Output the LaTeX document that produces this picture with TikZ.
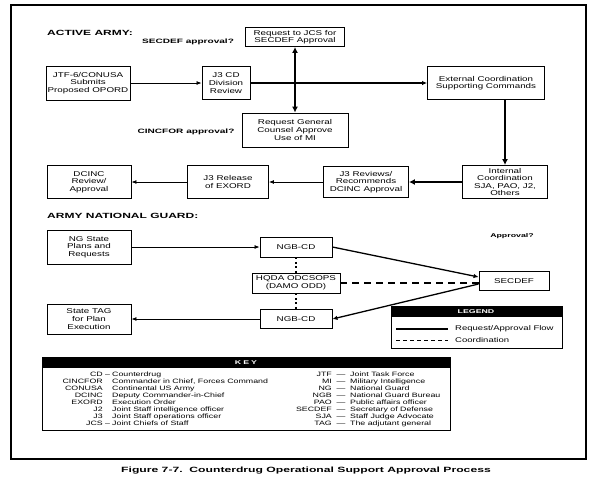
\documentclass[tikz,border=0pt]{standalone}
\usepackage{fontspec}
\setmainfont{Liberation Sans}
\newfontfamily\widefont[FakeStretch=1.4]{Liberation Sans}
\newfontfamily\headfont[FakeStretch=1.6]{Liberation Sans}
\usetikzlibrary{arrows.meta,positioning}

\begin{document}
\begin{tikzpicture}[x=1pt,y=-1pt,
  pbox/.style={draw,line width=0.9pt,align=center,inner sep=1pt,font=\widefont\fontsize{7}{7.6}\selectfont},
  flow/.style={line width=0.8pt,-{Latex[length=5pt,width=4pt]}},
  mflow/.style={line width=1.3pt,-{Latex[length=5pt,width=4.5pt]}},
  tflow/.style={line width=2.4pt,-{Latex[length=6pt,width=6pt]}},
  dflow/.style={line width=2.4pt,{Latex[length=6pt,width=6pt]}-{Latex[length=6pt,width=6pt]}},
  coord/.style={line width=1.8pt,dash pattern=on 7pt off 5pt},
  dots/.style={line width=1.8pt,dash pattern=on 2pt off 2.5pt},
  sect/.style={anchor=west,inner sep=0pt,font=\headfont\bfseries\fontsize{7.5}{8}\selectfont},
  ask/.style={inner sep=0pt,font=\headfont\bfseries\fontsize{6.3}{7}\selectfont},
  keyab/.style={anchor=base east,inner sep=0pt,font=\widefont\fontsize{6.3}{7}\selectfont},
  keydf/.style={anchor=base west,inner sep=0pt,font=\widefont\fontsize{6.3}{7}\selectfont},
  keyds/.style={anchor=base,inner sep=0pt,font=\widefont\fontsize{6.3}{7}\selectfont},
  hdr/.style={white,inner sep=0pt,font=\headfont\bfseries\fontsize{5.5}{6}\selectfont},
]
  \useasboundingbox (0,0) rectangle (610,480);
  \draw[line width=1.2pt] (11,5) rectangle (586,459);

  \node[sect] (aa) at (47,33) {ACTIVE ARMY:};
  \node[ask] (q1) at (188,42) {SECDEF approval?};
  \node[ask] (q2) at (186,132) {CINCFOR approval?};
  \node[pbox,minimum width=99,minimum height=19] (jcs) at (295,37) {Request to JCS for\\SECDEF Approval};
  \node[pbox,minimum width=84,minimum height=34] (jtf) at (88,83) {JTF-6/CONUSA\\Submits\\Proposed OPORD};
  \node[pbox,minimum width=48,minimum height=33] (jcd) at (226,83) {J3 CD\\Division\\Review};
  \node[pbox,minimum width=117,minimum height=33] (ext) at (486,83) {External Coordination\\Supporting Commands};
  \node[pbox,minimum width=106,minimum height=34] (rgc) at (295,130) {Request General\\Counsel Approve\\Use of MI};
  \node[pbox,minimum width=85,minimum height=33] (int) at (505,182) {Internal\\Coordination\\SJA, PAO, J2,\\Others};
  \node[pbox,minimum width=85,minimum height=31] (j3r) at (366,182) {J3 Reviews/\\Recommends\\DCINC Approval};
  \node[pbox,minimum width=81,minimum height=33] (jrel) at (228,182) {J3 Release\\of EXORD};
  \node[pbox,minimum width=84,minimum height=33] (dcinc) at (89,182) {DCINC\\Review/\\Approval};

  \node[sect] (ng) at (47,216) {ARMY NATIONAL GUARD:};
  \node[pbox,minimum width=84,minimum height=34] (ngs) at (89,247) {NG State\\Plans and\\Requests};
  \node[pbox,minimum width=72,minimum height=20] (ngb1) at (296,247) {NGB-CD};
  \node[ask,font=\headfont\bfseries\fontsize{5.5}{6}\selectfont] (q3) at (512,236) {Approval?};
  \node[pbox,minimum width=70,minimum height=19] (sec) at (514,281) {SECDEF};
  \node[pbox,minimum width=88,minimum height=20] (hq) at (296,283) {HQDA ODCSOPS\\(DAMO ODD)};
  \node[pbox,minimum width=72,minimum height=19] (ngb2) at (296,319) {NGB-CD};
  \node[pbox,minimum width=84,minimum height=30] (tag) at (89,319) {State TAG\\for Plan\\Execution};

  \draw[flow] (jtf) -- (jcd);
  \draw[mflow] (jcd) -- (ext);
  \draw[dflow] (jcs) -- (rgc);
  \draw[tflow] (int.north |- ext.south) -- (int.north);
  \draw[tflow] (int) -- (j3r);
  \draw[flow] (j3r) -- (jrel);
  \draw[flow] (jrel) -- (dcinc);
  \draw[flow] (ngs) -- (ngb1);
  \draw[mflow] (ngb1.east) -- ([yshift=4pt]sec.west);
  \draw[coord] (hq.east) -- (hq.east -| sec.west);
  \draw[mflow] ([yshift=-3pt]sec.west) -- (ngb2.east);
  \draw[flow] (ngb2) -- (tag);
  \draw[dots] (ngb1) -- (hq);
  \draw[dots] (hq) -- (ngb2);

  \node[draw,line width=0.9pt,minimum width=171,minimum height=42,anchor=north west,inner sep=0pt] (lg) at (391,306) {};
  \fill (lg.north west) rectangle ([yshift=-11pt]lg.north east);
  \node[hdr] (lgh) at (476,311.5) {LEGEND};
  \coordinate (la) at (396,329);
  \coordinate (lb) at (448,329);
  \coordinate (lc) at (396,340);
  \coordinate (ld) at (448,340);
  \draw[line width=1.2pt] (la) -- (lb);
  \draw[line width=1pt,dash pattern=on 4pt off 3pt] (lc) -- (ld);
  \node[keydf,anchor=west,font=\widefont\fontsize{6.8}{7}\selectfont] (lt1) at (455,329) {Request/Approval Flow};
  \node[keydf,anchor=west,font=\widefont\fontsize{6.8}{7}\selectfont] (lt2) at (455,340) {Coordination};

  \node[draw,line width=0.9pt,minimum width=408,minimum height=73,anchor=north west,inner sep=0pt] (key) at (42,357) {};
  \fill (key.north west) rectangle ([yshift=-11pt]key.north east);
  \node[hdr] (keyh) at (246,362.5) {K\hspace{2pt}E\hspace{2pt}Y};
  \foreach \ab/\df [count=\r from 0] in {CD/Counterdrug,CINCFOR/{Commander in Chief, Forces Command},
      CONUSA/Continental US Army,DCINC/Deputy Commander-in-Chief,EXORD/Execution Order,
      J2/Joint Staff intelligence officer,J3/Joint Staff operations officer,JCS/Joint Chiefs of Staff} {
    \node[keyab] (ka\r) at (103,376+7*\r) {\ab};
    \node[keydf] (kd\r) at (112,376+7*\r) {\df};
  }
  \foreach \r in {0,7}
    \node[keyds] (kx\r) at (107.5,376+7*\r) {–};
  \foreach \ab/\df [count=\r from 0] in {JTF/Joint Task Force,MI/Military Intelligence,NG/National Guard,
      NGB/National Guard Bureau,PAO/Public affairs officer,SECDEF/Secretary of Defense,
      SJA/Staff Judge Advocate,TAG/The adjutant general} {
    \node[keyab] (kb\r) at (332,376+7*\r) {\ab};
    \node[keyds] (ky\r) at (341,376+7*\r) {—};
    \node[keydf] (ke\r) at (350,376+7*\r) {\df};
  }

  \node[font=\headfont\bfseries\fontsize{7.6}{8}\selectfont] (cap) at (306,471) {Figure 7-7.\ \ Counterdrug Operational Support Approval Process};
\end{tikzpicture}
\end{document}
